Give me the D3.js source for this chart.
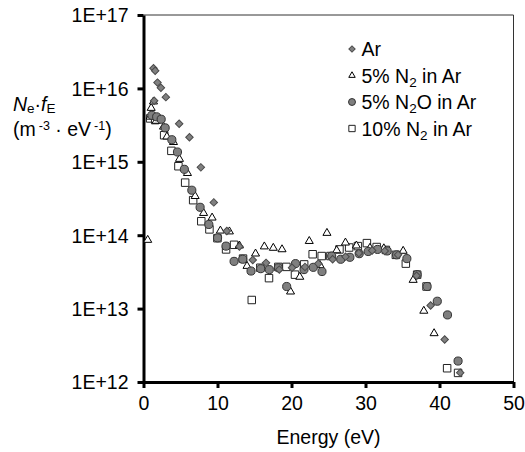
<!DOCTYPE html>
<html>
<head>
<meta charset="utf-8">
<script src="https://cdn.jsdelivr.net/npm/d3@7"></script>
<style>
    body { margin: 0; background: #fff; }
    svg text { font-family: "Liberation Sans", Arial, sans-serif; fill: #000; }
</style>
</head>
<body>
<svg id="chart" width="525" height="452"></svg>
<script>
// energy (eV), Ne*fE (m^-3 eV^-1)
const arData = [
    [1.35, 1.88e16], [1.44, 6.8e15], [1.58, 1.74e16], [1.89, 1.2e16], [2.35, 1.02e16],
    [3.02, 7.6e15], [4.82, 3.3e15], [6.21, 2.16e15], [7.75, 8.4e14], [9.50, 2.8e14],
    [11.26, 1.14e14], [12.96, 7.0e13], [14.76, 4.6e13], [16.56, 4.2e13], [18.35, 3.4e13],
    [20.07, 3.6e13], [21.82, 3.7e13], [23.62, 4.1e13], [25.56, 4.7e13], [27.3, 5.1e13],
    [29.1, 5.7e13], [30.9, 6.2e13], [32.6, 6.1e13], [34.4, 5.4e13], [36.9, 2.8e13],
    [38.8, 1.1e13], [40.7, 3.8e12], [42.8, 1.34e12]
];
const n2Data = [
    [0.57, 8.6e13], [0.90, 4.1e15], [1.04, 5.4e15], [1.35, 6.6e15], [1.71, 3.6e15],
    [2.70, 3.0e15], [3.16, 2.2e15], [4.05, 1.85e15], [4.86, 1.09e15], [5.94, 7.0e14],
    [6.98, 3.4e14], [8.12, 2.0e14], [9.27, 1.73e14], [10.39, 1.15e14], [11.61, 1.12e14],
    [12.96, 7.2e13], [13.99, 3.8e13], [15.14, 5.6e13], [16.33, 7.0e13], [17.54, 6.7e13],
    [18.72, 6.4e13], [19.87, 1.7e13], [21.12, 2.7e13], [22.40, 8.3e13], [23.85, 3.9e13],
    [24.79, 1.07e14], [26.11, 6.2e13], [27.29, 7.9e13], [28.77, 7.2e13], [30.6, 6.7e13],
    [32.48, 6.6e13], [35.09, 6.1e13], [36.44, 2.45e13], [37.88, 9.3e12], [39.27, 4.6e12]
];
const n2oData = [
    [1.13, 4.3e15], [1.78, 4.1e15], [2.39, 3.8e15], [2.93, 2.9e15], [3.83, 2.0e15],
    [4.59, 1.36e15], [5.52, 7.9e14], [6.53, 4.1e14], [7.65, 2.4e14], [8.83, 1.4e14],
    [10.01, 9.2e13], [11.15, 7.1e13], [12.24, 4.4e13], [13.41, 4.7e13], [14.53, 3.25e13],
    [15.84, 3.5e13], [17.00, 3.4e13], [18.22, 3.6e13], [19.35, 2.0e13], [20.54, 4.1e13],
    [21.69, 3.4e13], [22.94, 3.65e13], [24.12, 3.2e13], [25.43, 5.2e13], [26.65, 4.7e13],
    [27.89, 5.0e13], [29.15, 5.6e13], [30.36, 6.0e13], [31.63, 6.4e13], [32.93, 6.1e13],
    [34.20, 5.4e13], [35.59, 4.8e13], [36.98, 2.9e13], [38.33, 2.0e13], [39.70, 1.26e13],
    [41.08, 8.2e12], [42.51, 1.93e12]
];
const n10Data = [
    [0.90, 3.9e15], [1.58, 3.7e15], [2.79, 2.3e15], [3.77, 1.41e15], [4.72, 8.7e14],
    [5.63, 5.2e14], [6.71, 3.0e14], [7.81, 1.55e14], [8.91, 1.2e14], [9.99, 9.1e13],
    [11.16, 6.4e13], [12.24, 7.4e13], [13.45, 4.8e13], [14.63, 1.31e13], [15.79, 3.6e13],
    [16.96, 2.6e13], [18.22, 3.7e13], [19.31, 3.7e13], [20.47, 2.9e13], [21.71, 4.0e13],
    [22.86, 5.5e13], [24.08, 5.2e13], [25.26, 5.2e13], [26.48, 6.4e13], [27.79, 6.8e13],
    [28.97, 7.1e13], [30.19, 7.8e13], [31.51, 6.9e13], [32.75, 6.3e13], [34.10, 5.4e13],
    [35.45, 4.1e13], [36.98, 2.9e13], [38.25, 2.0e13], [41.03, 1.54e12], [42.51, 1.33e12]
];

const xTicks = [0, 10, 20, 30, 40, 50];
const yTicks = [1e12, 1e13, 1e14, 1e15, 1e16, 1e17];

const FONT = '19.5px';
const SUBFONT = '13.5px';

const svg = d3.select('#chart');

const x = d3.scaleLinear().domain([0, 50]).range([143.5, 513.5]);
const y = d3.scaleLog().domain([1e12, 1e17]).range([382, 15]);

// thin frame on top / right
svg.append('line')
    .attr('x1', x(0)).attr('x2', x(50))
    .attr('y1', y(1e17)).attr('y2', y(1e17))
    .style('stroke', '#333').style('stroke-width', 1);
svg.append('line')
    .attr('x1', x(50)).attr('x2', x(50))
    .attr('y1', y(1e17)).attr('y2', y(1e12))
    .style('stroke', '#333').style('stroke-width', 1);

// axes
const yAxis = svg.append('g')
    .attr('transform', 'translate(' + x(0) + ',0)')
    .call(d3.axisLeft(y).tickValues(yTicks).tickSizeInner(6).tickSizeOuter(0)
        .tickFormat(d => '1E+' + Math.round(Math.log10(d))));
const xAxis = svg.append('g')
    .attr('transform', 'translate(0,' + y(1e12) + ')')
    .call(d3.axisBottom(x).tickValues(xTicks).tickSizeInner(6).tickSizeOuter(0));

[yAxis, xAxis].forEach(a => {
    a.select('.domain').style('stroke', '#000').style('stroke-width', 3);
    a.selectAll('.tick line').style('stroke', '#000').style('stroke-width', 3);
    a.selectAll('.tick text')
        .style('font-size', FONT)
        .style('font-family', '"Liberation Sans", Arial, sans-serif');
});
yAxis.selectAll('.tick text').attr('x', -15).attr('dy', '0.35em');
xAxis.selectAll('.tick text').attr('y', 14).attr('dy', '0.71em');

svg.append('text')
    .attr('x', (x(0) + x(50)) / 2)
    .attr('y', 444)
    .attr('text-anchor', 'middle')
    .style('font-size', FONT)
    .text('Energy (eV)');

// y-axis title, two lines
let t1 = svg.append('text').attr('x', 13).attr('y', 111).style('font-size', FONT);
t1.append('tspan').style('font-style', 'italic').text('N');
t1.append('tspan').attr('dy', 2).style('font-size', SUBFONT).text('e');
t1.append('tspan').attr('dy', -2).text('·');
t1.append('tspan').style('font-style', 'italic').text('f');
t1.append('tspan').attr('dy', 2).style('font-size', SUBFONT).text('E');

let t2 = svg.append('text').attr('x', 13).attr('y', 136).style('font-size', FONT);
t2.append('tspan').text('(m');
t2.append('tspan').attr('dx', 3).attr('dy', -6).style('font-size', '12.5px').text('-3');
t2.append('tspan').attr('dy', 6).text(' · eV');
t2.append('tspan').attr('dx', 3).attr('dy', -6).style('font-size', '12.5px').text('-1');
t2.append('tspan').attr('dy', 6).text(')');

// series styles (squares at the bottom, diamonds on top)
const series = [
    { name: 'sq', data: n10Data, type: d3.symbolSquare, size: 56, rot: 0, fill: '#fff', stroke: '#222' },
    { name: 'tri', data: n2Data, type: d3.symbolTriangle, size: 28, rot: 0, fill: '#fff', stroke: '#000' },
    { name: 'circ', data: n2oData, type: d3.symbolCircle, size: 52, rot: 0, fill: '#7f7f7f', stroke: '#333' },
    { name: 'dia', data: arData, type: d3.symbolSquare, size: 28, rot: 45, fill: '#808080', stroke: '#4a4a4a' }
];

series.forEach(s => {
    svg.append('g').attr('class', 'series_' + s.name)
        .selectAll('path')
        .data(s.data)
        .join('path')
            .attr('d', d3.symbol().type(s.type).size(s.size))
            .attr('transform', d => 'translate(' + x(d[0]) + ',' + y(d[1]) + ') rotate(' + s.rot + ')')
            .style('fill', s.fill)
            .style('stroke', s.stroke)
            .style('stroke-width', 1);
});

// legend
const legendItems = [
    { label: ['Ar'], type: d3.symbolSquare, size: 20, rot: 45, fill: '#808080', stroke: '#4a4a4a' },
    { label: ['5% N', '2', ' in Ar'], type: d3.symbolTriangle, size: 18, rot: 0, fill: '#fff', stroke: '#000' },
    { label: ['5% N', '2', 'O in Ar'], type: d3.symbolCircle, size: 38, rot: 0, fill: '#7f7f7f', stroke: '#333' },
    { label: ['10% N', '2', ' in Ar'], type: d3.symbolSquare, size: 40, rot: 0, fill: '#fff', stroke: '#222' }
];

legendItems.forEach((it, i) => {
    let cy = 49 + i * 26.5;
    svg.append('path')
        .attr('d', d3.symbol().type(it.type).size(it.size))
        .attr('transform', 'translate(352,' + cy + ') rotate(' + it.rot + ')')
        .style('fill', it.fill).style('stroke', it.stroke).style('stroke-width', 1);
    let t = svg.append('text').attr('x', 361.5).attr('y', cy + 7).style('font-size', FONT);
    t.append('tspan').text(it.label[0]);
    if (it.label.length > 1) {
        t.append('tspan').attr('dy', 4).style('font-size', SUBFONT).text(it.label[1]);
        t.append('tspan').attr('dy', -4).text(it.label[2]);
    }
});
</script>
</body>
</html>
